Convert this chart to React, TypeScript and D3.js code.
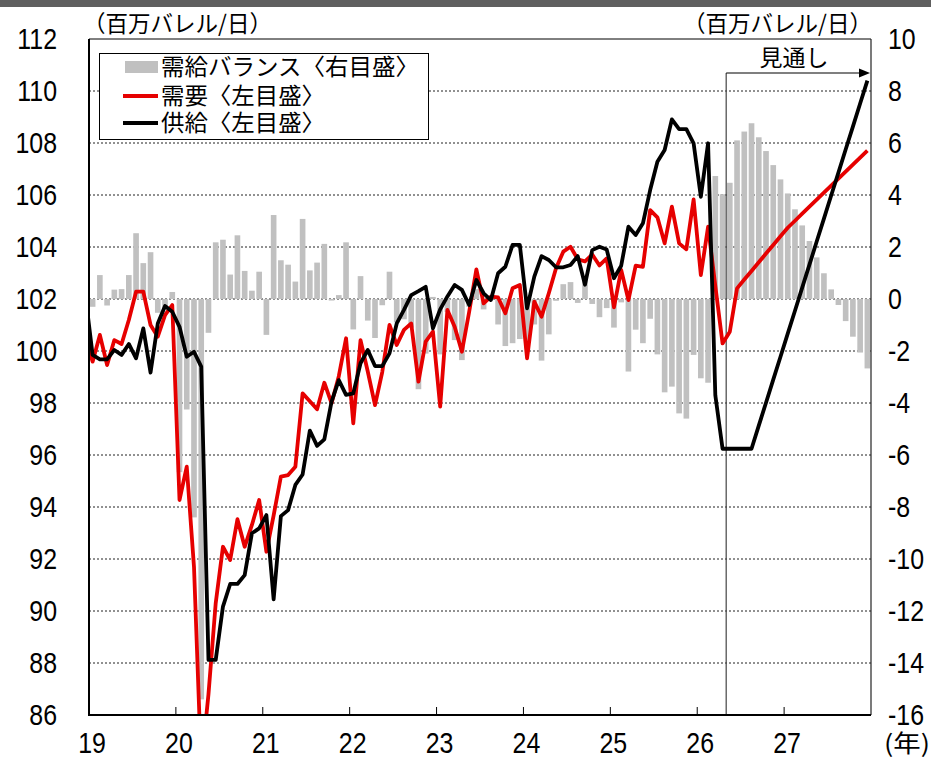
import * as d3 from "d3";

// 年ラベル（19 = 2019年）
const yearLabels = ["19", "20", "21", "22", "23", "24", "25", "26", "27"];

// 2018年12月（描画範囲の外、線の始点だけ）
const demandDec18 = 100.5;
const supplyDec18 = 102.15;

// 需要（左目盛, 百万バレル/日）2019年1月〜2027年12月
const demand = [
  99.59, 100.62, 99.46, 100.42, 100.27, 101.19, 102.28, 102.28, 101.0, 100.55, 101.38, 101.77,
  94.27, 95.55, 91.7, 84.0, 86.8, 90.3, 92.47, 91.96, 93.53, 92.47, 93.31, 94.27,
  92.28, 93.68, 95.17, 95.23, 95.55, 98.37, 98.07, 97.76, 98.78, 97.99, 99.03, 100.49,
  97.22, 100.42, 99.21, 97.92, 99.19, 101.0, 100.23, 100.81, 101.06, 98.82, 100.36, 100.75,
  97.86, 101.58, 100.93, 99.97, 101.5, 103.14, 101.83, 102.09, 102.06, 101.45, 102.41, 102.54,
  99.72, 101.9, 101.32, 102.22, 103.18, 103.82, 104.01, 103.53, 103.45, 103.71, 103.29, 103.56,
  101.68, 103.12, 101.96, 103.28, 103.24, 105.42, 105.14, 104.14, 105.55, 104.14, 103.91, 105.83,
  102.92, 104.78, 102.5, 100.29, 100.74, 102.41, 102.75, 103.08, 103.41, 103.75, 104.08, 104.41,
  104.74, 105.01, 105.28, 105.55, 105.82, 106.09, 106.36, 106.63, 106.9, 107.17, 107.44, 107.71,
];

// 供給（左目盛）
const supply = [
  99.85, 99.68, 99.68, 100.04, 99.85, 100.27, 99.72, 100.87, 99.17, 101.06, 101.73, 101.51,
  100.93, 99.78, 99.97, 99.4, 88.12, 88.12, 90.17, 91.04, 91.04, 91.38, 92.99, 93.18,
  93.69, 90.45, 93.65, 93.88, 94.85, 95.25, 96.94, 96.35, 96.6, 98.05, 98.88, 98.31,
  98.37, 99.53, 100.04, 99.42, 99.42, 99.91, 101.06, 101.58, 102.15, 102.3, 102.47, 100.87,
  101.6, 102.1, 102.54, 102.35, 101.77, 102.73, 102.22, 101.96, 102.99, 103.24, 104.08, 104.08,
  101.64, 102.86, 103.65, 103.5, 103.22, 103.22, 103.31, 103.65, 102.55, 103.88, 104.01, 103.9,
  102.8, 103.28, 104.78, 104.46, 104.91, 106.19, 107.28, 107.73, 108.91, 108.53, 108.53, 107.99,
  105.93, 107.99, 98.3, 96.24, 96.24, 96.24, 96.24, 96.24, 97.13, 98.01, 98.9, 99.78,
  100.67, 101.55, 102.44, 103.32, 104.21, 105.09, 105.98, 106.86, 107.75, 108.63, 109.52, 110.4,
];

// 需給バランス（右目盛）
const balance = [
  -0.3, 0.92, -0.25, 0.36, 0.38, 0.92, 2.53, 1.38, 1.8, -0.53, -0.4, 0.27,
  -6.66, -4.25, -8.4, -15.4, -1.3, 2.18, 2.28, 0.94, 2.45, 1.08, 0.32, 1.05,
  -1.38, 3.23, 1.49, 1.32, 0.67, 3.08, 1.1, 1.4, 2.12, -0.06, 0.15, 2.18,
  -1.17, 0.88, -0.83, -1.5, -0.24, 1.05, -0.9, -0.78, -1.1, -3.47, -2.1, 0.08,
  -2.13, -0.5, -1.58, -2.35, -0.3, 0.38, -0.4, 0.13, -0.98, -1.81, -1.7, -1.54,
  -1.9, -0.98, -2.37, -1.36, -0.07, 0.57, 0.65, -0.15, 0.8, -0.19, -0.7, -0.35,
  -1.1, -0.13, -2.79, -1.18, -1.7, -0.76, -2.13, -3.59, -3.37, -4.4, -4.6, -2.15,
  -3.05, -3.22, 4.73, 4.03, 4.47, 6.1, 6.44, 6.76, 6.22, 5.69, 5.15, 4.6,
  4.06, 3.45, 2.83, 2.23, 1.6, 0.99, 0.37, -0.23, -0.85, -1.45, -2.06, -2.67,
];

const leftTicks = [86, 88, 90, 92, 94, 96, 98, 100, 102, 104, 106, 108, 110, 112];
const rightTicks = [-16, -14, -12, -10, -8, -6, -4, -2, 0, 2, 4, 6, 8, 10];

const forecastStart = 88; // 2026年5月から見通し

const NUM_FONT = "'Liberation Sans', Arial, sans-serif";
const JP_FONT = "'Noto Sans CJK JP', 'Noto Sans CJK SC', sans-serif";

// 縦長の数字ラベル
function Num(props: { x: number; y: number; anchor: "start" | "middle" | "end"; dy?: string; children: any }) {
  return (
    <text
      transform={`translate(${props.x},${props.y}) scale(0.86,1)`}
      dy={props.dy}
      textAnchor={props.anchor}
      fontFamily={NUM_FONT}
      fontSize={29}
    >
      {props.children}
    </text>
  );
}

export default function App() {
  const W = 931;
  const H = 760;
  const left = 89;
  const right = 871;
  const top = 39;
  const bottom = 715;
  const n = demand.length;

  const xi = d3.scaleLinear().domain([0, n]).range([left, right]);
  const xb = d3
    .scaleBand<number>()
    .domain(d3.range(n))
    .range([left, right])
    .paddingInner(0.22)
    .paddingOuter(0.11);
  const yL = d3.scaleLinear().domain([86, 112]).range([bottom, top]);
  const yR = d3.scaleLinear().domain([-16, 10]).range([bottom, top]);

  const line = d3
    .line<[number, number]>()
    .x((d) => xi(d[0] + 0.5))
    .y((d) => yL(d[1]));

  const demandPts: [number, number][] = [[-1, demandDec18], ...demand.map((v, i) => [i, v] as [number, number])];
  const supplyPts: [number, number][] = [[-1, supplyDec18], ...supply.map((v, i) => [i, v] as [number, number])];

  const xf = xi(forecastStart);
  const arrowY = 73;

  return (
    <svg
      width={W}
      height={H}
      style={{ position: "absolute", left: 0, top: 0, display: "block", background: "#fff" }}
    >
      <defs>
        <clipPath id="plot">
          <rect x={left} y={top} width={right - left} height={bottom - top} />
        </clipPath>
      </defs>
      <rect x={0} y={0} width={W} height={7} fill="#5f5f5f" />

      {/* grid */}
      {leftTicks.slice(1, -1).map((t) => (
        <line
          key={t}
          x1={left}
          x2={right}
          y1={yL(t)}
          y2={yL(t)}
          stroke="#222"
          strokeWidth={1}
          strokeDasharray="2 2"
        />
      ))}

      {/* bars */}
      {balance.map((v, i) => (
        <rect
          key={i}
          x={xb(i)}
          width={xb.bandwidth()}
          y={Math.min(yR(v), yR(0))}
          height={Math.abs(yR(v) - yR(0))}
          fill="#c0c0c0"
        />
      ))}

      {/* forecast marker */}
      <line x1={xf} x2={xf} y1={arrowY} y2={bottom} stroke="#444" strokeWidth={1.2} />
      <line x1={xf} x2={right - 10} y1={arrowY} y2={arrowY} stroke="#000" strokeWidth={1.2} />
      <polygon
        points={`${right - 1},${arrowY} ${right - 12},${arrowY - 4.5} ${right - 12},${arrowY + 4.5}`}
        fill="#000"
      />
      <text x={794} y={66} fontFamily={JP_FONT} fontSize={23} textAnchor="middle">
        見通し
      </text>

      {/* lines */}
      <g clipPath="url(#plot)">
        <path d={line(demandPts) ?? ""} fill="none" stroke="#e60000" strokeWidth={3.8} strokeLinejoin="round" />
        <path d={line(supplyPts) ?? ""} fill="none" stroke="#000" strokeWidth={3.8} strokeLinejoin="round" />
      </g>

      {/* frame */}
      <line x1={left} x2={right} y1={top} y2={top} stroke="#000" strokeWidth={1} />
      <line x1={right} x2={right} y1={top} y2={bottom} stroke="#222" strokeWidth={1.2} />
      <line x1={left} x2={left} y1={top} y2={bottom + 1} stroke="#000" strokeWidth={2} />
      <line x1={left - 1} x2={right} y1={bottom} y2={bottom} stroke="#000" strokeWidth={2} />

      {/* x ticks */}
      {yearLabels.slice(1).map((_, k) => (
        <line
          key={k}
          x1={xi(12 * (k + 1))}
          x2={xi(12 * (k + 1))}
          y1={bottom}
          y2={bottom - 8}
          stroke="#000"
          strokeWidth={1}
        />
      ))}

      {/* axis labels */}
      {leftTicks.map((t) => (
        <Num key={t} x={57} y={yL(t)} dy="0.36em" anchor="end">
          {t}
        </Num>
      ))}
      {rightTicks.map((t) => (
        <Num key={t} x={888} y={yR(t)} dy="0.36em" anchor="start">
          {t}
        </Num>
      ))}
      {yearLabels.map((y, k) => (
        <Num key={y} x={xi(12 * k) + 3} y={753} anchor="middle">
          {y}
        </Num>
      ))}
      <text x={884} y={752} fontFamily={JP_FONT} fontSize={24} textLength={46} lengthAdjust="spacingAndGlyphs">
        (年)
      </text>
      <text x={83} y={32} fontFamily={JP_FONT} fontSize={23} textLength={189} lengthAdjust="spacingAndGlyphs">
        （百万バレル/日）
      </text>
      <text x={683} y={32} fontFamily={JP_FONT} fontSize={23} textLength={189} lengthAdjust="spacingAndGlyphs">
        （百万バレル/日）
      </text>

      {/* legend */}
      <rect x={99.5} y={53.5} width={329} height={86} fill="#fff" stroke="#000" strokeWidth={1} />
      <rect x={125} y={61} width={33} height={12} fill="#c0c0c0" />
      <line x1={123} x2={158} y1={96} y2={96} stroke="#e60000" strokeWidth={4} />
      <line x1={123} x2={158} y1={123} y2={123} stroke="#000" strokeWidth={4} />
      <text x={161} y={75} fontFamily={JP_FONT} fontSize={23} textLength={258} lengthAdjust="spacingAndGlyphs">
        需給バランス〈右目盛〉
      </text>
      <text x={161} y={104} fontFamily={JP_FONT} fontSize={23} textLength={164} lengthAdjust="spacingAndGlyphs">
        需要〈左目盛〉
      </text>
      <text x={161} y={131} fontFamily={JP_FONT} fontSize={23} textLength={164} lengthAdjust="spacingAndGlyphs">
        供給〈左目盛〉
      </text>
    </svg>
  );
}
